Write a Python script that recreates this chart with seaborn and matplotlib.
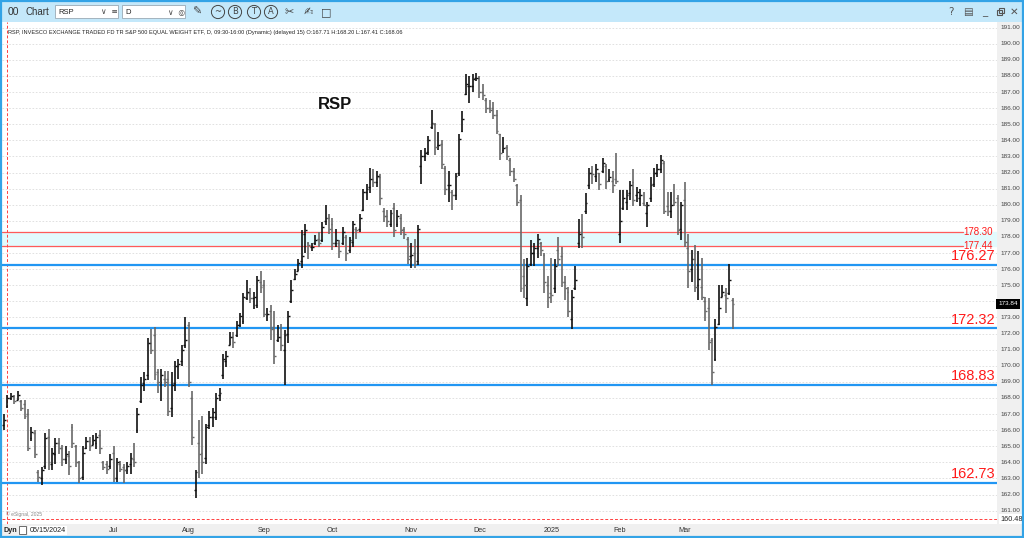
import matplotlib
matplotlib.use("Agg")
import numpy as np
import pandas as pd
import matplotlib.pyplot as plt
import matplotlib.patches as mpatches
from matplotlib.transforms import blended_transform_factory
import seaborn as sns

# daily OHLC bars, 05/14/2024 .. 03/21/2025
opens = [
    166.3, 167.5, 168.0, 168.1, 167.9, 167.8, 167.6, 167.0, 165.5, 165.8,
    163.4, 163.0, 163.8, 165.6, 163.9, 164.5, 165.2, 164.9, 164.2, 164.4,
    166.2, 165.0, 164.0, 163.1, 164.9, 165.3, 165.1, 165.2, 165.7, 164.0,
    163.9, 163.8, 164.6, 163.0, 163.9, 163.7, 163.5, 163.9, 164.2, 166.0,
    167.8, 168.9, 169.4, 171.4, 171.9, 169.6, 169.0, 169.2, 169.2, 167.4,
    168.9, 170.0, 170.3, 171.3, 172.5, 168.0, 162.3, 165.2, 164.6, 164.3,
    166.3, 166.8, 166.8, 168.2, 169.4, 170.3, 171.3, 171.8, 171.9, 172.5,
    172.8, 174.2, 174.5, 174.2, 173.8, 175.2, 175.0, 173.2, 173.4, 172.4,
    171.6, 171.8, 171.0, 172.0, 174.0, 175.4, 175.9, 176.5, 178.2, 177.6,
    177.4, 177.6, 177.9, 177.8, 179.0, 179.2, 178.8, 177.6, 177.6, 177.6,
    178.0, 177.2, 177.7, 178.5, 178.5, 179.7, 180.8, 181.1, 181.6, 181.4,
    181.7, 179.6, 179.3, 178.8, 179.8, 178.8, 179.2, 178.5, 177.9, 176.8,
    177.0, 176.5, 182.4, 183.0, 183.3, 184.8, 185.0, 183.7, 183.8, 182.3,
    181.2, 180.8, 180.6, 182.0, 184.6, 186.9, 187.4, 187.4, 187.9, 187.9,
    187.0, 186.5, 186.0, 186.0, 185.6, 184.4, 183.4, 183.6, 182.8, 182.1,
    181.2, 180.3, 175.6, 174.2, 176.3, 177.0, 177.3, 177.6, 176.9, 175.0,
    174.5, 174.8, 177.2, 176.8, 175.2, 174.6, 172.9, 174.8, 177.6, 178.3,
    179.6, 181.2, 182.0, 181.8, 182.0, 182.1, 182.4, 181.6, 181.5, 181.6,
    178.2, 179.8, 180.2, 180.7, 181.4, 180.6, 180.4, 180.1, 179.5, 180.4,
    181.3, 182.0, 182.2, 182.6, 179.9, 179.6, 180.3, 180.4, 178.5, 180.3,
    177.3, 176.0, 176.6, 175.0, 174.9, 174.0, 173.6, 171.6, 170.4, 172.6,
    174.3, 174.4, 174.5, 174.1,
]
highs = [
    167.0, 168.2, 168.3, 168.2, 168.4, 167.9, 167.9, 167.3, 166.2, 166.0,
    163.5, 163.7, 165.8, 166.1, 164.9, 165.5, 165.5, 165.1, 165.0, 164.7,
    166.4, 165.1, 164.1, 165.0, 165.6, 165.6, 165.7, 165.8, 166.0, 164.1,
    164.1, 164.5, 165.0, 164.3, 164.1, 163.9, 164.0, 164.6, 165.2, 167.4,
    169.3, 169.6, 171.7, 172.3, 172.4, 169.8, 169.8, 169.7, 169.7, 169.6,
    170.3, 170.4, 171.3, 173.0, 172.7, 168.4, 163.5, 166.6, 166.9, 166.4,
    167.2, 167.4, 168.3, 168.6, 170.7, 170.9, 172.1, 172.1, 172.8, 173.3,
    174.5, 175.3, 174.8, 174.6, 175.6, 175.9, 175.3, 173.6, 173.8, 173.4,
    172.5, 172.6, 172.2, 173.4, 175.3, 176.0, 176.6, 178.4, 178.8, 177.7,
    177.6, 178.1, 178.3, 178.95, 180.0, 179.4, 179.2, 178.5, 177.8, 178.6,
    178.1, 178.0, 179.0, 178.6, 179.4, 181.0, 181.3, 182.3, 182.2, 182.1,
    181.9, 179.8, 179.7, 179.7, 180.1, 179.7, 179.4, 178.6, 178.0, 177.6,
    177.9, 178.75, 183.4, 183.5, 184.3, 185.9, 185.1, 184.5, 184.0, 182.4,
    182.1, 180.9, 182.0, 184.4, 185.8, 188.1, 188.0, 188.1, 188.2, 188.0,
    187.5, 186.6, 186.5, 186.4, 185.9, 184.4, 184.2, 183.7, 182.9, 182.3,
    181.3, 180.6, 176.6, 176.7, 177.8, 177.6, 178.2, 177.7, 177.0, 175.6,
    176.7, 176.6, 178.0, 177.4, 175.6, 174.9, 174.7, 176.2, 179.1, 179.4,
    180.7, 182.3, 182.4, 182.5, 182.0, 182.9, 182.5, 182.2, 182.1, 183.2,
    180.9, 180.9, 180.9, 181.5, 182.2, 181.1, 181.0, 180.8, 180.2, 181.7,
    182.3, 182.5, 183.1, 182.7, 180.8, 180.8, 181.3, 180.6, 180.2, 181.4,
    178.2, 177.2, 177.5, 177.1, 176.7, 174.3, 174.2, 171.7, 172.9, 175.0,
    175.0, 174.8, 176.3, 174.2,
]
lows = [
    166.0, 167.35, 167.9, 167.6, 167.9, 167.2, 166.7, 164.7, 165.3, 164.3,
    162.8, 162.6, 163.6, 163.5, 163.5, 163.9, 164.5, 163.8, 163.9, 163.2,
    164.9, 163.7, 162.7, 162.9, 164.8, 164.7, 165.1, 164.8, 164.5, 163.5,
    163.3, 163.6, 162.8, 162.8, 163.4, 162.7, 163.3, 163.3, 163.7, 165.8,
    167.7, 168.4, 169.1, 170.7, 169.1, 168.3, 167.8, 168.7, 166.9, 166.8,
    168.4, 169.2, 170.0, 171.1, 168.7, 165.1, 161.8, 163.0, 163.3, 163.9,
    166.1, 166.2, 166.6, 167.8, 169.2, 169.9, 171.3, 171.1, 171.8, 172.4,
    172.6, 174.1, 173.9, 173.5, 173.6, 174.5, 173.0, 172.8, 171.6, 170.1,
    171.5, 170.9, 168.8, 171.4, 173.9, 175.3, 175.9, 176.1, 177.0, 176.6,
    177.1, 177.5, 177.4, 177.7, 178.75, 178.2, 177.2, 177.4, 176.7, 177.5,
    176.5, 177.0, 177.4, 177.9, 178.3, 179.6, 180.3, 180.7, 181.1, 181.1,
    180.0, 178.95, 178.6, 178.6, 178.0, 178.6, 178.1, 177.9, 176.3, 176.05,
    176.05, 176.26, 181.3, 182.7, 183.1, 184.7, 183.1, 183.4, 182.2, 180.6,
    180.2, 179.7, 180.3, 181.8, 184.5, 186.8, 186.3, 187.0, 187.7, 186.6,
    186.5, 185.7, 185.7, 185.3, 184.4, 182.8, 183.2, 182.8, 181.8, 181.4,
    179.9, 174.6, 174.2, 173.7, 176.2, 176.2, 176.7, 176.8, 174.5, 173.6,
    173.9, 174.5, 176.2, 174.9, 174.1, 173.0, 172.3, 174.7, 177.3, 177.3,
    179.4, 181.0, 181.3, 181.4, 180.9, 182.0, 181.0, 181.4, 180.7, 181.3,
    177.6, 179.7, 179.7, 180.3, 179.9, 180.2, 179.9, 179.9, 178.6, 180.2,
    181.1, 181.7, 182.0, 179.4, 179.3, 179.2, 179.9, 178.1, 177.8, 177.4,
    174.8, 175.2, 174.6, 174.1, 174.1, 172.8, 171.0, 168.8, 170.3, 172.5,
    174.3, 173.3, 174.4, 172.3,
]
closes = [
    166.6, 168.0, 168.1, 167.8, 168.2, 167.4, 166.9, 164.9, 165.9, 164.5,
    163.1, 163.5, 165.5, 164.0, 164.6, 165.2, 164.9, 164.2, 164.5, 163.8,
    165.2, 164.0, 163.0, 164.6, 165.3, 165.0, 165.4, 165.6, 164.9, 163.7,
    163.6, 164.2, 163.0, 164.0, 163.6, 163.5, 163.8, 164.3, 164.0, 167.0,
    168.8, 169.2, 171.4, 171.0, 169.5, 169.0, 169.4, 169.0, 167.2, 168.8,
    170.0, 170.1, 171.0, 171.6, 169.0, 165.6, 163.4, 164.5, 164.0, 166.2,
    166.8, 167.1, 168.0, 168.3, 170.4, 170.6, 171.8, 171.5, 172.5, 173.1,
    174.3, 174.6, 174.2, 174.3, 175.3, 174.9, 173.2, 173.2, 172.3, 170.6,
    171.8, 171.3, 171.9, 173.1, 174.7, 175.7, 176.4, 176.8, 178.4, 177.5,
    177.4, 177.8, 177.6, 178.6, 179.2, 178.5, 177.6, 177.8, 177.1, 178.3,
    177.0, 177.8, 178.8, 178.4, 179.2, 180.8, 181.0, 181.6, 181.4, 181.8,
    180.4, 179.3, 179.0, 179.5, 178.4, 179.3, 178.4, 178.2, 176.6, 176.9,
    176.3, 178.5, 183.0, 183.2, 184.0, 185.1, 183.6, 183.7, 182.5, 181.0,
    181.2, 180.6, 181.8, 184.1, 185.3, 187.5, 187.4, 187.8, 187.9, 187.0,
    186.8, 186.0, 185.9, 185.6, 184.6, 183.2, 183.5, 183.0, 182.1, 181.6,
    180.2, 174.8, 175.0, 176.2, 177.0, 177.3, 177.9, 177.2, 175.2, 174.3,
    174.4, 176.2, 176.6, 175.2, 174.8, 173.4, 174.3, 175.3, 178.2, 178.0,
    180.1, 182.0, 181.9, 182.2, 181.3, 182.6, 181.5, 181.7, 181.2, 181.5,
    179.0, 180.4, 180.6, 181.2, 180.3, 180.8, 180.6, 180.0, 180.0, 181.2,
    182.0, 182.2, 182.8, 179.6, 179.6, 180.0, 180.2, 178.4, 180.0, 177.7,
    175.9, 176.6, 174.9, 175.4, 174.3, 173.4, 171.5, 169.6, 172.4, 173.6,
    174.6, 174.2, 175.3, 173.84,
]

month_labels = ["Jul", "Aug", "Sep", "Oct", "Nov", "Dec", "2025", "Feb", "Mar"]
month_first_bar = [32, 54, 76, 96, 119, 139, 160, 180, 199]

blue_levels = [176.27, 172.32, 168.83, 162.73]
red_levels = [178.30, 177.44]
price_ticks = list(range(161, 192))
last_price = 173.84
floor_price = 160.48
cursor_bar = 1

header = ("RSP, INVESCO EXCHANGE TRADED FD TR S&P 500 EQUAL WEIGHT ETF, D, "
          "09:30-16:00 (Dynamic) (delayed 15) O:167.71 H:168.20 L:167.41 C:168.06")

sns.set_theme(style="white")
plt.rcParams["font.family"] = ["Liberation Sans", "DejaVu Sans"]
SYM = ["DejaVu Sans"]

W, H = 1024, 538
fig = plt.figure(figsize=(W / 100, H / 100), dpi=100)
fig.patch.set_facecolor("white")


def px_axes(x0, y0, x1, y1):
    return fig.add_axes([x0 / W, 1 - y1 / H, (x1 - x0) / W, (y1 - y0) / H])


def bare(a, face):
    a.set_facecolor(face)
    a.set_xticks([])
    a.set_yticks([])
    for s in a.spines.values():
        s.set_visible(False)


YLIM = (160.17, 191.35)

# ---- main price panel
ax = px_axes(2, 22, 997, 524)
bare(ax, "white")
ax.set_xlim(-0.6, 290.3)
ax.set_ylim(*YLIM)

for t in price_ticks:
    ax.axhline(t, color="#DCDCDC", lw=0.6, ls=(0, (2, 2)), zorder=0)

ax.axhspan(red_levels[1], red_levels[0], color="#E2FAFD", zorder=0.5)
for lv in red_levels:
    ax.axhline(lv, xmax=0.9655, color="#FF5A5A", lw=0.9, zorder=1)

df = pd.DataFrame({"open": opens, "high": highs, "low": lows, "close": closes})
df["bar"] = np.arange(len(df))
cols = np.where(df["close"] >= df["open"], "#111111", "#686868")
ax.vlines(df["bar"], df["low"], df["high"], colors=cols, lw=1.2, zorder=3)
ax.hlines(df["open"], df["bar"] - 0.55, df["bar"], colors=cols, lw=1.0, zorder=3)
ax.hlines(df["close"], df["bar"], df["bar"] + 0.55, colors=cols, lw=1.0, zorder=3)

for lv in blue_levels:
    ax.axhline(lv, color="#2196F3", lw=1.6, zorder=2)

tr = blended_transform_factory(ax.transAxes, ax.transData)
for lv in blue_levels:
    ax.text(0.998, lv + 0.1, f"{lv:.2f}", transform=tr, ha="right", va="bottom",
            color="#FF1A1A", fontsize=10.5, zorder=5)
for lv in red_levels:
    ax.text(0.9665, lv, f"{lv:.2f}", transform=tr, ha="left", va="center",
            color="#FF1A1A", fontsize=7, zorder=5)

ax.axhline(floor_price, color="#FF4040", lw=0.7, ls=(0, (3, 2)), zorder=1)
ax.axvline(cursor_bar, color="#FF4040", lw=0.7, ls=(0, (3, 2)), zorder=1)

ax.text(0.006, 0.985, header, transform=ax.transAxes, ha="left", va="top",
        fontsize=4.1, color="#222222")
ax.text(0.335, 0.835, "RSP", transform=ax.transAxes, ha="center", va="center",
        fontsize=12, fontweight="bold", color="#111111")
ax.text(0.004, floor_price + 0.12, "\u00a9 eSignal, 2025", transform=tr,
        ha="left", va="bottom", fontsize=3.6, color="#888888")

# ---- right price scale
axr = px_axes(997, 22, 1022, 524)
bare(axr, "#F0F0F0")
axr.set_xlim(0, 1)
axr.set_ylim(*YLIM)
for t in price_ticks:
    if abs(t - last_price) < 0.5:
        continue  # hidden behind the last-price marker
    axr.text(0.12, t, f"{t:.2f}", ha="left", va="center", fontsize=4.6,
             color="#444444")
axr.text(0.06, last_price, f"{last_price:.2f}", ha="left", va="center",
         fontsize=4.6, color="white",
         bbox=dict(facecolor="black", edgecolor="none", pad=1.6))
axr.text(0.12, floor_price, f"{floor_price:.2f}", ha="left", va="center",
         fontsize=5.2, color="#222222",
         bbox=dict(facecolor="white", edgecolor="none", pad=0.8))

# ---- bottom date bar
axb = px_axes(2, 524, 1022, 536)
bare(axb, "#F0F0F0")
trb = blended_transform_factory(ax.transData, axb.transAxes)
for lab, b in zip(month_labels, month_first_bar):
    axb.text(b, 0.45, lab, transform=trb, ha="center", va="center",
             fontsize=5.2, color="#333333")
axb.text(0.001, 0.5, "Dyn", transform=axb.transAxes, ha="left", va="center",
         fontsize=5.2, fontweight="bold", color="#222222")
axb.add_patch(mpatches.Rectangle((0.017, 0.2), 0.007, 0.6, transform=axb.transAxes,
                                 facecolor="white", edgecolor="#555555", lw=0.6))
axb.text(0.027, 0.45, "05/15/2024", transform=axb.transAxes, ha="left", va="center",
         fontsize=5.2, color="#222222",
         bbox=dict(facecolor="white", edgecolor="none", pad=0.8))

# ---- window toolbar
axt = px_axes(0, 0, 1024, 22)
bare(axt, "#C4E8FA")
axt.set_xlim(0, W)
axt.set_ylim(22, 0)
axt.text(8, 12, "00", fontsize=7.5, va="center", color="#333333")
axt.text(25, 12, "Chart", fontsize=7, va="center", color="#333333")
for x0, x1, label, extra in [(55, 118, "RSP", "\u2228  \u2261"),
                             (122, 185, "D", "\u2228  \u25ce")]:
    axt.add_patch(mpatches.Rectangle((x0, 5), x1 - x0, 13, facecolor="white",
                                     edgecolor="#9AA9B5", lw=0.6))
    axt.text(x0 + 3, 12, label, fontsize=5.5, va="center", color="#222222")
    axt.text(x1 - 17, 12, extra, fontsize=5.5, va="center", color="#444444",
             family=SYM)
icons = [(197, "\u270e"), (218, "~"), (235, "B"), (254, "T"), (271, "A"),
         (289, "\u2702"), (308, "\u270d"), (326, "\u25a1")]
for x, glyph in icons:
    circled = glyph in ("~", "B", "T", "A")
    axt.text(x, 12, glyph, fontsize=6 if circled else 8, ha="center", va="center",
             color="#444444", family=SYM,
             bbox=dict(boxstyle="circle,pad=0.25", facecolor="none",
                       edgecolor="#444444", lw=0.7) if circled else None)
for x, glyph in [(951, "?"), (968, "\u25a4"), (985, "_"), (1014, "\u2715")]:
    axt.text(x, 12, glyph, fontsize=7.5, ha="center", va="center", color="#555555",
             family=SYM)
# restore-window icon (two overlapping squares)
axt.add_patch(mpatches.Rectangle((997, 10), 5, 5, facecolor="none",
                                 edgecolor="#555555", lw=0.8))
axt.add_patch(mpatches.Rectangle((999, 8), 5, 5, facecolor="none",
                                 edgecolor="#555555", lw=0.8))

# ---- blue window frame
frame = fig.add_axes([0, 0, 1, 1], facecolor="none")
frame.set_xlim(0, W)
frame.set_ylim(H, 0)
frame.axis("off")
frame.add_patch(mpatches.Rectangle((0.8, 0.8), W - 1.6, H - 1.6, facecolor="none",
                                   edgecolor="#33A3E6", lw=1.6))

fig.savefig("out.png", dpi=100)
